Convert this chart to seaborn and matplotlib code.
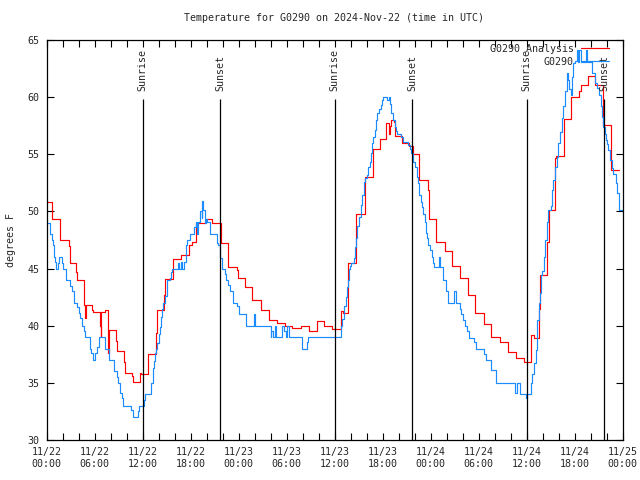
import matplotlib
matplotlib.use("Agg")
import matplotlib.pyplot as plt
import seaborn as sns
import pandas as pd
from matplotlib.ticker import MultipleLocator

# ---------------- data (hours since 2024-11-22 00:00 UTC) ----------------
title_text = "Temperature for G0290 on 2024-Nov-22 (time in UTC)"
y_label = "degrees F"
analysis_label = "G0290 Analysis"
station_label = "G0290"

analysis_hours = [0.0, 0.7, 1.7, 2.75, 2.9, 3.7, 3.8, 4.7, 4.8, 4.88, 5.7, 5.8, 6.7, 6.75, 6.87,
                  7.3, 7.7, 7.78, 8.7, 8.78, 9.7, 9.78, 10.7, 10.78, 11.67, 11.8, 12.67, 13.7,
                  13.83, 14.67, 14.8, 15.8, 16.75, 17.8, 18.2, 18.7, 19.96, 20.7, 21.75, 22.7,
                  23.75, 23.95, 24.75, 25.7, 26.75, 27.8, 28.75, 29.75, 30.7, 31.75, 32.8, 33.75,
                  34.7, 35.7, 36.75, 37.0, 37.7, 38.65, 39.75, 40.8, 41.7, 42.4, 42.8, 42.9, 43.1,
                  43.4, 43.6, 44.4, 45.25, 45.8, 46.5, 47.7, 47.85, 48.65, 49.75, 50.7, 51.7, 52.7,
                  53.6, 54.7, 55.6, 56.7, 57.7, 58.7, 59.7, 60.5, 60.6, 60.9, 61.6, 61.7, 62.6,
                  62.75, 63.6, 63.7, 64.7, 65.6, 66.5, 66.75, 67.7, 68.6, 69.5, 70.5, 71.6]
analysis_temps = [50.8, 49.3, 47.5, 47.0, 45.5, 44.7, 44.0, 41.8, 40.7, 41.8, 41.4, 41.2, 40.0, 39.0,
                  41.2, 41.4, 37.6, 39.6, 38.7, 37.8, 36.8, 35.9, 35.6, 35.05, 35.9, 35.8, 37.5,
                  39.4, 41.4, 42.7, 44.06, 45.85, 46.2, 47.05, 47.35, 48.96, 49.3, 49.0, 47.2,
                  45.1, 44.9, 44.2, 43.4, 42.25, 41.4, 40.5, 40.2, 40.0, 39.8, 39.95, 39.5, 40.4,
                  39.95, 39.7, 41.3, 41.1, 45.5, 49.8, 53.0, 55.5, 56.3, 57.7, 56.8, 57.5, 58.0,
                  57.8, 56.6, 56.0, 55.7, 55.0, 52.75, 51.9, 49.3, 47.35, 46.5, 45.2, 44.15, 42.7,
                  41.1, 40.15, 39.0, 38.55, 37.7, 37.2, 36.8, 38.0, 39.2, 38.9, 41.5, 44.4, 47.35,
                  50.1, 54.65, 54.85, 58.06, 60.0, 60.5, 61.06, 61.85, 61.06, 57.6, 53.6, 53.6]

station_hours = [0.0, 0.375, 0.7, 0.8, 0.9, 1.0, 1.17, 1.4, 1.54, 1.9, 2.04, 2.4, 2.9, 3.17, 3.4,
                 3.8, 4.04, 4.2, 4.4, 4.67, 4.8, 5.4, 5.6, 5.8, 6.04, 6.33, 6.54, 7.3, 7.8, 8.4,
                 8.75, 8.96, 9.17, 9.4, 9.54, 10.6, 10.8, 11.4, 11.6, 12.17, 12.3, 13.0, 13.12,
                 13.3, 13.4, 13.54, 13.7, 13.83, 14.04, 14.17, 14.33, 14.46, 14.58, 14.8, 15.08,
                 15.42, 15.58, 15.71, 16.42, 16.54, 16.75, 16.96, 17.17, 17.375, 17.5, 17.92,
                 18.42, 18.71, 18.83, 18.96, 19.17, 19.375, 19.46, 19.58, 19.75, 19.875, 20.08,
                 20.42, 21.25, 21.42, 21.67, 21.96, 22.29, 22.46, 22.67, 22.92, 23.29, 23.83,
                 24.04, 24.95, 25.9, 26.04, 28.0, 28.1, 28.33, 28.5, 28.7, 29.46, 29.67, 29.875,
                 30.08, 30.3, 31.96, 32.5, 32.67, 36.75, 36.96, 37.17, 37.375, 37.5, 37.67,
                 37.79, 37.9, 38.08, 38.4, 38.54, 38.71, 38.83, 39.04, 39.25, 39.46, 39.67, 39.83,
                 40.0, 40.17, 40.375, 40.58, 40.71, 40.83, 41.04, 41.21, 41.33, 41.54, 41.75,
                 41.96, 42.08, 42.58, 42.75, 42.92, 43.08, 43.29, 43.5, 43.71, 43.83, 44.25,
                 44.58, 45.21, 45.375, 45.58, 45.79, 46.0, 46.25, 46.42, 46.58, 46.75, 46.96,
                 47.08, 47.25, 47.375, 47.5, 47.67, 47.92, 48.125, 48.29, 48.42, 49.04, 49.17,
                 49.58, 49.875, 50.17, 50.92, 51.125, 51.67, 51.83, 52.08, 52.25, 52.5, 52.79,
                 53.42, 53.625, 54.67, 54.875, 55.58, 56.125, 58.54, 58.75, 59.17, 59.875, 60.08,
                 60.5, 60.71, 60.92, 61.125, 61.33, 61.5, 61.67, 61.75, 61.96, 62.17, 62.29,
                 62.5, 62.7, 63.0, 63.2, 63.33, 63.54, 63.75, 63.96, 64.17, 64.375, 64.58, 64.79,
                 65.0, 65.2, 65.33, 65.5, 65.625, 65.83, 66.0, 66.25, 66.45, 66.55, 66.75, 67.45,
                 67.6, 68.2, 68.5, 68.8, 69.0, 69.25, 69.375, 69.58, 69.75, 69.875, 70.0, 70.17,
                 70.42, 70.625, 70.83, 71.125, 71.33, 71.54, 72.0]
station_temps = [49.0, 48.0, 47.5, 47.1, 46.0, 45.6, 45.0, 45.5, 46.0, 45.5, 45.0, 44.0, 43.5, 43.0,
                 42.0, 41.6, 41.1, 40.7, 40.0, 39.5, 39.0, 38.0, 37.6, 37.0, 37.6, 38.1, 39.0,
                 38.0, 37.0, 36.0, 35.5, 35.0, 34.1, 33.7, 33.0, 32.6, 32.0, 32.5, 33.0, 33.5,
                 34.0, 34.5, 35.0, 36.3, 36.9, 37.6, 38.0, 38.5, 39.3, 39.9, 40.8, 41.5, 42.0,
                 42.6, 44.0, 44.2, 44.7, 45.0, 45.5, 45.0, 45.6, 45.0, 45.6, 47.05, 47.5, 48.0,
                 48.6, 49.05, 48.0, 49.05, 50.0, 49.4, 50.95, 50.1, 49.0, 49.3, 49.05, 48.0, 47.2,
                 47.05, 45.9, 45.0, 44.5, 44.0, 43.6, 43.0, 41.96, 41.7, 41.0, 40.0, 41.0, 40.0,
                 39.05, 39.5, 39.05, 40.0, 39.05, 40.0, 39.5, 39.05, 40.0, 39.05, 38.0, 38.6,
                 39.05, 40.0, 40.6, 41.7, 42.5, 43.4, 44.0, 45.0, 45.2, 45.5, 45.9, 46.9, 47.65,
                 48.7, 49.5, 50.6, 51.4, 52.6, 52.9, 53.2, 53.9, 54.35, 55.1, 55.96, 56.5, 57.1,
                 58.0, 58.6, 59.0, 59.3, 59.75, 60.04, 59.75, 60.04, 59.4, 58.6, 58.0, 57.4, 57.0,
                 56.8, 56.5, 56.1, 55.8, 55.5, 55.1, 54.35, 53.9, 53.05, 52.5, 51.4, 50.8, 50.4,
                 49.8, 49.1, 48.1, 47.7, 47.05, 46.6, 46.0, 45.5, 45.1, 46.0, 45.1, 44.0, 43.0,
                 41.96, 43.0, 41.96, 41.5, 41.0, 40.5, 39.95, 39.5, 38.9, 38.6, 38.0, 37.5, 37.0,
                 36.1, 35.0, 34.1, 35.0, 34.0, 33.7, 34.0, 35.0, 35.8, 36.7, 37.9, 40.5, 42.0,
                 42.9, 44.4, 44.8, 46.04, 47.5, 49.1, 50.1, 50.5, 51.9, 52.75, 53.9, 54.8, 55.96,
                 56.98, 58.2, 59.2, 60.5, 62.1, 61.5, 60.7, 60.2, 61.8, 63.0, 63.2, 64.1, 63.1,
                 64.1, 63.1, 64.1, 63.1, 62.1, 61.2, 60.8, 60.2, 59.2, 58.3, 57.4, 56.75, 56.25,
                 55.9, 55.4, 54.5, 53.8, 53.3, 52.5, 51.6, 50.1, 50.1]

sunrise_hours = [12.0, 36.0, 60.0]
sunset_hours = [21.7, 45.7, 69.7]

tick_hours = [0, 6, 12, 18, 24, 30, 36, 42, 48, 54, 60, 66, 72]
tick_labels = ["11/22\n00:00", "11/22\n06:00", "11/22\n12:00", "11/22\n18:00",
               "11/23\n00:00", "11/23\n06:00", "11/23\n12:00", "11/23\n18:00",
               "11/24\n00:00", "11/24\n06:00", "11/24\n12:00", "11/24\n18:00",
               "11/25\n00:00"]
y_ticks = [30, 35, 40, 45, 50, 55, 60, 65]

# ---------------- plotting ----------------
sns.set_style("white")
plt.rcParams["font.family"] = ["DejaVu Sans Mono"]
FS = 7.2

red = "#ff0000"
blue = "#1a8cff"

analysis_df = pd.DataFrame({"hour": analysis_hours, "temp": analysis_temps})
station_df = pd.DataFrame({"hour": station_hours, "temp": station_temps})

fig = plt.figure(figsize=(6.4, 4.8), dpi=100)
ax = fig.add_axes([46.5 / 640, 40 / 480, 576 / 640, 400 / 480])

sns.lineplot(data=analysis_df, x="hour", y="temp", drawstyle="steps-post", estimator=None,
             sort=False, color=red, linewidth=0.85, label=analysis_label, ax=ax)
sns.lineplot(data=station_df, x="hour", y="temp", drawstyle="steps-post", estimator=None,
             sort=False, color=blue, linewidth=0.85, label=station_label, ax=ax)

line_top = 59.85
for h in sunrise_hours:
    ax.vlines(h, 30, line_top, color="black", linewidth=0.9, zorder=3)
    ax.text(h, 60.55, "Sunrise", rotation=90, ha="center", va="bottom", fontsize=FS)
for h in sunset_hours:
    ax.vlines(h, 30, line_top, color="black", linewidth=0.9, zorder=3)
    ax.text(h, 60.55, "Sunset", rotation=90, ha="center", va="bottom", fontsize=FS)

ax.set_xlim(0, 72)
ax.set_ylim(30, 65)
ax.set_xticks(tick_hours)
ax.set_xticklabels(tick_labels, fontsize=FS)
ax.xaxis.set_minor_locator(MultipleLocator(2))
ax.set_yticks(y_ticks)
ax.set_yticklabels([str(v) for v in y_ticks], fontsize=FS)
ax.tick_params(axis="both", which="both", direction="in", length=5, width=0.8,
               top=True, right=True, bottom=True, left=True, color="black")
ax.tick_params(axis="x", which="major", pad=5)
ax.tick_params(axis="y", which="major", pad=5)

for s in ax.spines.values():
    s.set_color("black")
    s.set_linewidth(0.9)

ax.set_xlabel("")
ax.set_ylabel(y_label, fontsize=FS, labelpad=8)
ax.set_title(title_text, fontsize=FS, pad=14)

leg = ax.legend(loc="upper right", bbox_to_anchor=((609 - 46.5) / 576, 0.99),
                frameon=False, markerfirst=False, fontsize=FS, handlelength=2.8,
                handletextpad=0.7, labelspacing=0.3, borderpad=0, borderaxespad=0)
for t in leg.get_texts():
    t.set_ha("right")

fig.savefig("out.png", dpi=100)
